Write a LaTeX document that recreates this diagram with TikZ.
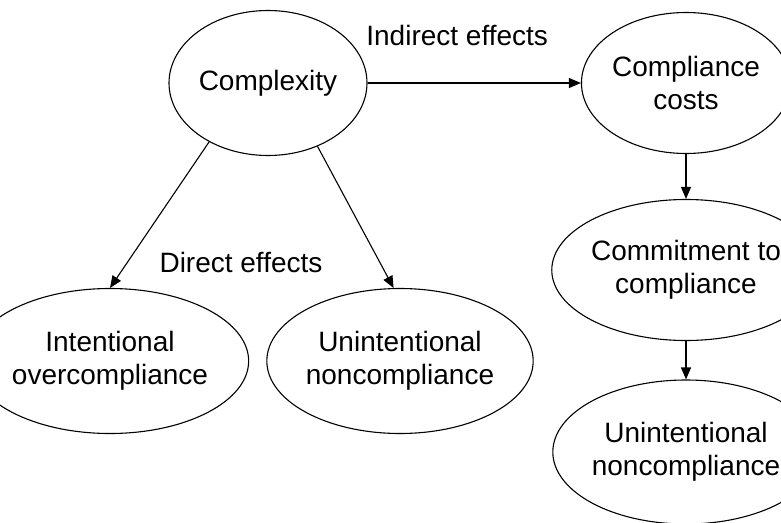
\documentclass[tikz,border=0pt]{standalone}
\usepackage{fontspec}
\setmainfont{Liberation Sans}
\usetikzlibrary{arrows.meta,shapes.geometric}
\begin{document}
\begin{tikzpicture}[x=1pt,y=-1pt,line width=1.1pt,>={Triangle[length=12pt,width=10pt]},
    every node/.style={font=\fontsize{28}{33}\selectfont,align=center},
    oval/.style={draw,ellipse,inner sep=0pt,minimum width=198pt,minimum height=145pt}]
            \useasboundingbox (0,0) rectangle (781,522);
            \node[oval] (cx) at (268,83) {Complexity};
            \node[oval,minimum width=190pt,minimum height=141pt] (cc) at (686,83) {Compliance\\costs};
            \node[oval,minimum width=190pt,minimum height=141pt] (cm) at (686,270) {Commitment to\\compliance};
            \node[oval,minimum width=190pt,minimum height=144pt] (un2) at (686,452) {Unintentional\\noncompliance};
            \node[oval] (io) at (110,361) {Intentional\\overcompliance};
            \node[oval] (un1) at (400,361) {Unintentional\\noncompliance};
            \node (de) at (241,262) {Direct effects};
            \draw[->] (cx) -- node[pos=0.42,above=33pt]{Indirect effects} (cc);
            \draw[->] (cx.225) -- (io.north);
            \draw[->] (cx.308) -- (un1.95);
            \draw[->] (cc) -- (cm);
            \draw[->] (cm) -- (un2);
        \end{tikzpicture}
\end{document}
